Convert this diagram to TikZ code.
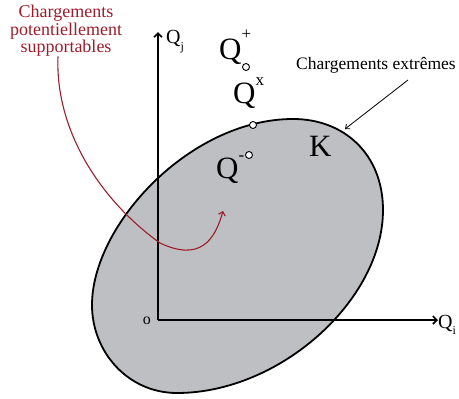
\documentclass[tikz,border=0pt]{standalone}
\usepackage{fontspec}
\setmainfont{Liberation Serif}
\usetikzlibrary{arrows.meta}
\definecolor{kgray}{RGB}{190,191,195}
\definecolor{dred}{RGB}{158,28,42}
\begin{document}
\begin{tikzpicture}[x=1pt,y=-1pt,
  big/.style={inner sep=0pt, anchor=base west, font=\fontsize{31}{31}\selectfont},
  sml/.style={inner sep=0pt, anchor=base west, font=\fontsize{20}{20}\selectfont},
  pt/.style={circle, draw=black, fill=white, line width=0.9pt, inner sep=0pt, minimum size=7pt},
  axis/.style={line width=1.8pt, -{Straight Barb[length=4pt,width=8pt,line width=1.6pt]}},
  redlbl/.style={inner sep=0pt, anchor=north, align=center, text=dred, font=\fontsize{18}{14.5}\selectfont},
  redarr/.style={draw=dred, line width=1.1pt, -{Straight Barb[length=3.5pt,width=7pt]}},
  thinarr/.style={draw=black, line width=0.8pt, -{Straight Barb[length=3.5pt,width=6pt]}}
]
\useasboundingbox (0,0) rectangle (459,399);

% region K
\filldraw[fill=kgray, draw=black, line width=1.8pt]
  (293,119) .. controls (345,119) and (383,155) .. (383,210)
  .. controls (383,300) and (280,393) .. (177,393)
  .. controls (128,393) and (92,352) .. (92,305)
  .. controls (92,225) and (190,119) .. cycle;

% axes
\coordinate (O) at (158,320);
\coordinate (jtip) at (158,32);
\coordinate (itip) at (438,320);
\draw[axis] (O) -- (jtip);
\draw[axis] (O) -- (itip);
\node[sml] (qj) at (166,43) {Q\raisebox{-0.35em}{\fontsize{12}{12}\selectfont j}};
\node[sml] (qi) at (438,328) {Q\raisebox{-0.3em}{\fontsize{12}{12}\selectfont i}};
\node[inner sep=0pt, anchor=base east, font=\fontsize{16}{16}\selectfont] (o) at (151,324) {o};

% points
\node[big] (qplus) at (219,59) {Q\raisebox{0.62em}{\fontsize{17}{17}\selectfont +}};
\node[pt] (pplus) at (246,67) {};
\node[big] (qx) at (233,103) {Q\raisebox{0.55em}{\fontsize{17}{17}\selectfont x}};
\node[pt] (px) at (253,125) {};
\node[big] (qm) at (216,178) {Q\raisebox{0.55em}{\fontsize{17}{17}\selectfont -}};
\node[pt] (pm) at (249,155) {};
\node[big] (k) at (309,156) {K};

% extreme loads
\node[inner sep=0pt, anchor=base west, font=\fontsize{17.5}{17.5}\selectfont] (ext) at (296,69) {Chargements extrêmes};
\coordinate (kb) at (345,129);
\draw[thinarr] (408,80) -- (kb);

% potentially supportable
\node[redlbl] (pot) at (66,5) {Chargements\\potentiellement\\supportables};
\coordinate (tgt) at (223,211);
\draw[redarr] ([xshift=-8pt]pot.south) .. controls (55,130) and (100,200) .. (160,243)
  .. controls (200,262) and (215,240) .. (tgt);
\end{tikzpicture}
\end{document}
